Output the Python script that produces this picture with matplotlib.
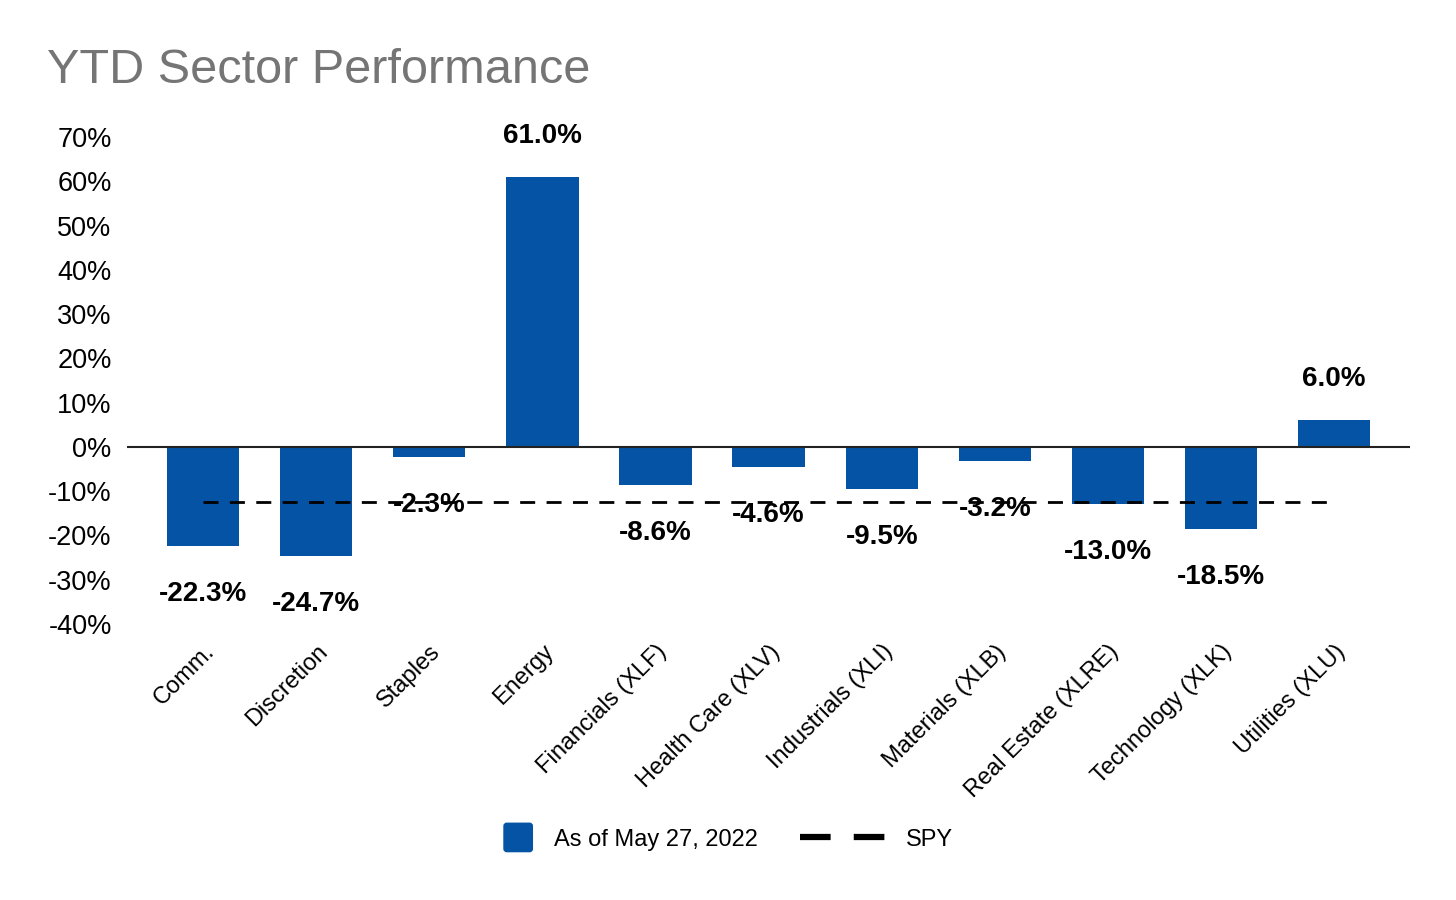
import numpy as np
import matplotlib.pyplot as plt
from matplotlib.lines import Line2D
from matplotlib.patches import Patch, FancyBboxPatch
from matplotlib.legend_handler import HandlerPatch

plt.rcParams['font.family'] = ['Liberation Sans', 'DejaVu Sans']

sectors = ['Comm.', 'Discretion', 'Staples', 'Energy', 'Financials (XLF)',
           'Health Care (XLV)', 'Industrials (XLI)', 'Materials (XLB)',
           'Real Estate (XLRE)', 'Technology (XLK)', 'Utilities (XLU)']
ytd = [-22.3, -24.7, -2.3, 61.0, -8.6, -4.6, -9.5, -3.2, -13.0, -18.5, 6.0]
spy = -12.4
yticks = [-40, -30, -20, -10, 0, 10, 20, 30, 40, 50, 60, 70]

blue = '#0453a5'

fig = plt.figure(figsize=(14.56, 9), dpi=100)
ax = fig.add_axes([0.0872, 0.3067, 0.8812, 0.5411])

x = np.arange(len(sectors))
bars = ax.bar(x, ytd, width=0.64, color=blue, zorder=2)
ax.axhline(0, color='#222222', lw=1.5, zorder=3)
ax.hlines(spy, x[0], x[-1], colors='black', lw=2, linestyles=(0, (5.4, 4.1)), zorder=4)

# value labels: above positive bars, below negative ones
for xi, v in zip(x, ytd):
    off = 29.5 if v >= 0 else -34.5
    ax.annotate(f'{v:.1f}%', (xi, v), xytext=(0, off), textcoords='offset points',
                ha='center', va='center', fontsize=20, fontweight='bold', zorder=5,
                annotation_clip=False)

ax.set_xlim(-0.672, 10.67)
ax.set_ylim(-40, 70)
ax.set_yticks(yticks)
ax.set_yticklabels([f'{t}%' for t in yticks], fontsize=19.5)
ax.set_xticks(x)
ax.set_xticklabels(sectors, rotation=45, ha='right', rotation_mode='anchor', fontsize=17)
ax.tick_params(length=0)
ax.tick_params(axis='y', pad=11)
ax.tick_params(axis='x', pad=12)
for s in ax.spines.values():
    s.set_visible(False)

fig.text(0.032, 0.908, 'YTD Sector Performance', fontsize=35, color='#757575',
         ha='left', va='baseline')


def square_patch(legend, orig_handle, xdescent, ydescent, width, height, fontsize):
    size = 1.2 * fontsize
    return FancyBboxPatch((width - size - xdescent, (height - size) / 2 - ydescent),
                          size, size, boxstyle='round,pad=0,rounding_size=2')


handles = [Patch(color=blue, label='As of May 27, 2022'),
           Line2D([], [], color='black', lw=4.5, linestyle=(0, (4.9, 3.7)), label='SPY')]
fig.legend(handles=handles, loc='center', bbox_to_anchor=(0.481, 0.067), ncol=2,
           frameon=False, fontsize=17, handlelength=3.6, handletextpad=0.9,
           columnspacing=1.8,
           handler_map={Patch: HandlerPatch(patch_func=square_patch)})

fig.savefig('out.png', dpi=100)
